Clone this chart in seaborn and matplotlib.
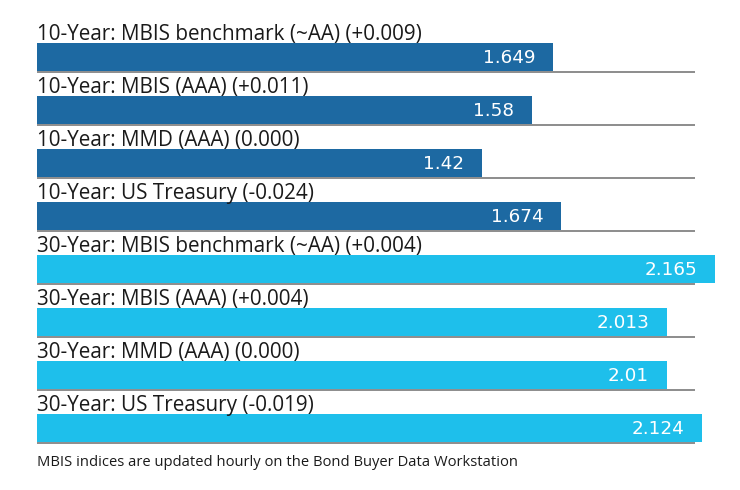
import matplotlib
matplotlib.use("Agg")
import matplotlib.pyplot as plt
import seaborn as sns
import pandas as pd

labels = [
    "10-Year: MBIS benchmark (~AA) (+0.009)",
    "10-Year: MBIS (AAA) (+0.011)",
    "10-Year: MMD (AAA) (0.000)",
    "10-Year: US Treasury (-0.024)",
    "30-Year: MBIS benchmark (~AA) (+0.004)",
    "30-Year: MBIS (AAA) (+0.004)",
    "30-Year: MMD (AAA) (0.000)",
    "30-Year: US Treasury (-0.019)",
]
values = [1.649, 1.58, 1.42, 1.674, 2.165, 2.013, 2.01, 2.124]
value_text = ["1.649", "1.58", "1.42", "1.674", "2.165", "2.013", "2.01", "2.124"]
groups = ["10-Year"] * 4 + ["30-Year"] * 4
footnote = "MBIS indices are updated hourly on the Bond Buyer Data Workstation"

colors = {"10-Year": "#1d69a2", "30-Year": "#1ebfeb"}

sns.set_theme(style="white")
plt.rcParams["font.family"] = ["Open Sans", "DejaVu Sans"]

df = pd.DataFrame({"label": labels, "value": values, "group": groups})

W, H = 740, 490
fig = plt.figure(figsize=(W / 100, H / 100), dpi=100)
left_px, width_px = 37, 700
ax = fig.add_axes([left_px / W, 0, width_px / W, 1])

px_per_unit = 313.2
pitch = 53.0
bar_h = 28.0
sns.barplot(data=df, x="value", y="label", hue="group", palette=colors,
            dodge=False, legend=False, width=bar_h / pitch, ax=ax,
            saturation=1, linewidth=0)

ax.set_xlim(0, width_px / px_per_unit)
top_center = 57.0
ax.set_ylim((H - top_center) / pitch, -top_center / pitch)
ax.axis("off")

half = bar_h / pitch / 2
sep_end = (695 - left_px) / px_per_unit
for i, (lab, v, t) in enumerate(zip(labels, values, value_text)):
    ax.text(0, i - half - 0.05, lab, ha="left", va="baseline",
            fontsize=14.9, color="#1a1a1a")
    ax.text(v - 18 / px_per_unit, i + 0.01, t, ha="right", va="center",
            fontsize=13.2, color="white", family="DejaVu Sans")
    ax.plot([0, sep_end], [i + half + 0.025] * 2, color="#8c8c8c", lw=1.4,
            solid_capstyle="butt", zorder=0)

fig.text(left_px / W, 1 - 462 / H, footnote, ha="left", va="center",
         fontsize=10.6, color="#1a1a1a")

fig.savefig("out.png", dpi=100)
